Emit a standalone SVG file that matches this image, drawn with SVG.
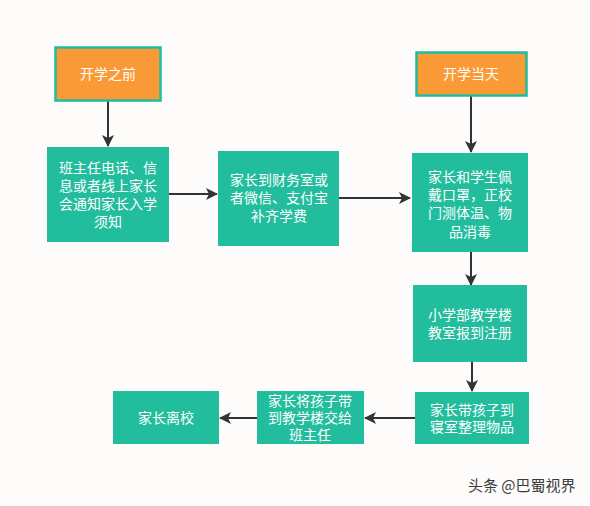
<svg xmlns="http://www.w3.org/2000/svg" width="590" height="506" viewBox="0 0 590 506">
<style>
.o{fill:#F99A36;stroke:#1EBC9C;stroke-width:2.5}
.g{fill:#22BD9D}
.t{font-family:"Noto Sans CJK SC","Microsoft YaHei",sans-serif;font-size:14px;fill:#ffffff;text-anchor:middle}
.c{stroke:#333333;stroke-width:2;fill:none;marker-end:url(#a)}
</style>
<defs>
<marker id="a" viewBox="0 0 12 12" refX="11" refY="6" markerWidth="12" markerHeight="12" markerUnits="userSpaceOnUse" orient="auto">
<path d="M0,0 L12,6 L0,12 L3,6 Z" fill="#333333"/>
</marker>
</defs>
<rect width="590" height="506" fill="#fdfcfb"/>
<g id="connectors">
<line class="c" x1="108" y1="101" x2="108" y2="146"/>
<line class="c" x1="169" y1="194" x2="217" y2="194"/>
<line class="c" x1="339" y1="198" x2="410" y2="198"/>
<line class="c" x1="471" y1="96" x2="471" y2="152"/>
<line class="c" x1="471" y1="252" x2="471" y2="285"/>
<line class="c" x1="472" y1="362" x2="472" y2="391"/>
<line class="c" x1="415" y1="418" x2="365" y2="418"/>
<line class="c" x1="257" y1="418" x2="220" y2="418"/>
</g>
<g id="n1"><rect class="o" x="55.5" y="47.5" width="105" height="53"/><text class="t" x="108" y="79">开学之前</text></g>
<g id="n2"><rect class="g" x="47" y="147" width="122" height="95"/>
<text class="t"><tspan x="108" y="173">班主任电话、信</tspan><tspan x="108" y="191">息或者线上家长</tspan><tspan x="108" y="209">会通知家长入学</tspan><tspan x="108" y="227">须知</tspan></text></g>
<g id="n3"><rect class="g" x="218" y="151" width="121" height="95"/>
<text class="t"><tspan x="279" y="185">家长到财务室或</tspan><tspan x="279" y="203">者微信、支付宝</tspan><tspan x="279" y="221">补齐学费</tspan></text></g>
<g id="n4"><rect class="o" x="416.5" y="52.5" width="110" height="43"/><text class="t" x="471" y="79">开学当天</text></g>
<g id="n5"><rect class="g" x="412" y="153" width="116" height="99"/>
<text class="t"><tspan x="470" y="182">家长和学生佩</tspan><tspan x="470" y="200">戴口罩，正校</tspan><tspan x="470" y="218">门测体温、物</tspan><tspan x="470" y="237">品消毒</tspan></text></g>
<g id="n6"><rect class="g" x="413" y="285" width="114" height="77"/>
<text class="t"><tspan x="470" y="320">小学部教学楼</tspan><tspan x="470" y="338">教室报到注册</tspan></text></g>
<g id="n7"><rect class="g" x="415" y="392" width="114" height="52"/>
<text class="t"><tspan x="472" y="415">家长带孩子到</tspan><tspan x="472" y="432">寝室整理物品</tspan></text></g>
<g id="n8"><rect class="g" x="257" y="391" width="107" height="53"/>
<text class="t"><tspan x="310" y="406">家长将孩子带</tspan><tspan x="310" y="423">到教学楼交给</tspan><tspan x="310" y="440">班主任</tspan></text></g>
<g id="n9"><rect class="g" x="113" y="391" width="106" height="53"/><text class="t" x="166" y="423">家长离校</text></g>
<text x="468" y="491" font-family="Noto Sans CJK SC,sans-serif" font-size="15" fill="#3a3a3a">头条 @巴蜀视界</text>
</svg>
